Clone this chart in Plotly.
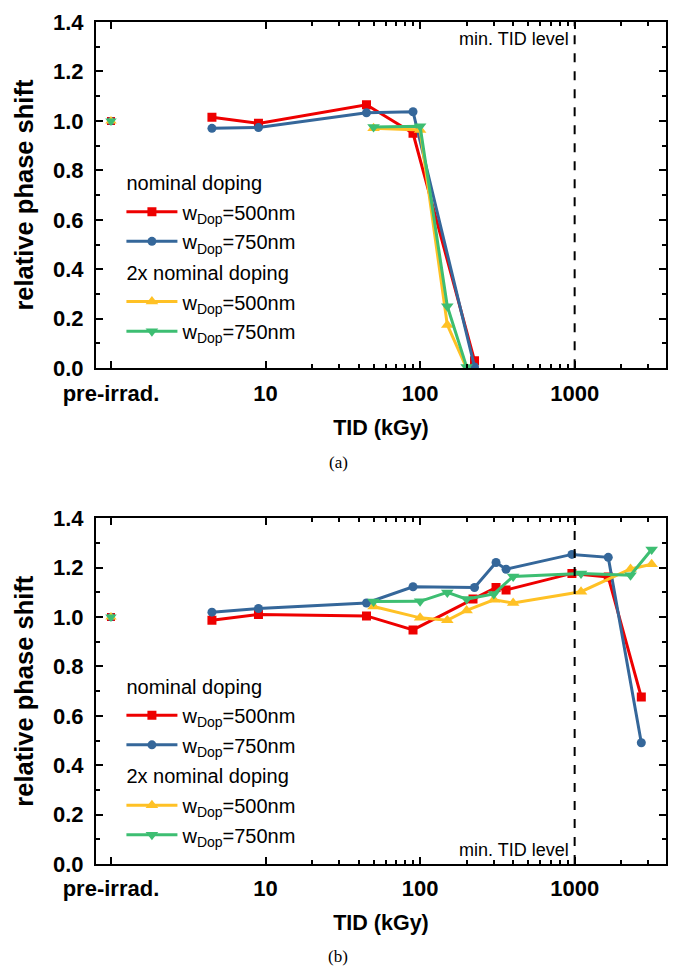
import numpy as np
import plotly.graph_objects as go

# ---------------- data ----------------
pre_x = 1  # "pre-irrad." position
pre_y = 1.0

a_nom500_x = [4.5, 9, 45, 90, 225]
a_nom500_y = [1.015, 0.99, 1.065, 0.95, 0.03]
a_nom750_x = [4.5, 9, 45, 90, 225]
a_nom750_y = [0.97, 0.973, 1.033, 1.037, 0.005]
a_2x500_x = [50, 100, 150, 200]
a_2x500_y = [0.97, 0.963, 0.175, 0.0]
a_2x750_x = [50, 100, 150, 200]
a_2x750_y = [0.975, 0.978, 0.25, 0.005]

b_nom500_x = [4.5, 9, 45, 90, 220, 310, 360, 960, 1650, 2700]
b_nom500_y = [0.987, 1.011, 1.005, 0.948, 1.073, 1.12, 1.11, 1.177, 1.162, 0.676]
b_nom750_x = [4.5, 9, 45, 90, 225, 310, 360, 960, 1650, 2700]
b_nom750_y = [1.02, 1.035, 1.057, 1.123, 1.12, 1.221, 1.194, 1.254, 1.242, 0.491]
b_2x500_x = [50, 100, 150, 200, 300, 400, 1100, 2300, 3150]
b_2x500_y = [1.043, 0.997, 0.987, 1.027, 1.07, 1.057, 1.103, 1.195, 1.214]
b_2x750_x = [50, 100, 150, 200, 300, 400, 1100, 2300, 3150]
b_2x750_y = [1.063, 1.064, 1.1, 1.073, 1.094, 1.165, 1.177, 1.17, 1.274]

x_tickvals = [1, 10, 100, 1000]
x_ticktext = ["pre-irrad.", "10", "100", "1000"]
x_minor = [20, 30, 40, 50, 60, 70, 80, 90, 200, 300, 400, 500, 600, 700, 800, 900, 2000, 3000]
y_tickvals = [0.0, 0.2, 0.4, 0.6, 0.8, 1.0, 1.2, 1.4]
y_minor = [0.1, 0.3, 0.5, 0.7, 0.9, 1.1, 1.3]
min_tid = 1000

series_names = ["w<sub>Dop</sub>=500nm", "w<sub>Dop</sub>=750nm",
                "w<sub>Dop</sub>=500nm", "w<sub>Dop</sub>=750nm"]
group_titles = ["nominal doping", "nominal doping", "2x nominal doping", "2x nominal doping"]

# ---------------- style ----------------
colors = ["#EE0000", "#35679A", "#FFC125", "#3DBE72"]
symbols = ["square", "circle", "triangle-up", "triangle-down"]
msizes = [9, 9, 11, 11]
groups = ["nom", "nom", "2x", "2x"]
FONT = "Liberation Sans, Arial, sans-serif"
LEG_TXT = 20     # visible legend text size
LEG_ROW = 20.5   # legend font size controlling row spacing


def span(t, size=LEG_TXT):
    return f'<span style="font-size:{size}px">{t}</span>'


fig = go.Figure()

panels = [
    ([a_nom500_x, a_nom750_x, a_2x500_x, a_2x750_x],
     [a_nom500_y, a_nom750_y, a_2x500_y, a_2x750_y], "x", "y", "legend"),
    ([b_nom500_x, b_nom750_x, b_2x500_x, b_2x750_x],
     [b_nom500_y, b_nom750_y, b_2x500_y, b_2x750_y], "x2", "y2", "legend2"),
]

for xs, ys, xa, ya, leg in panels:
    for i in range(4):
        fig.add_trace(go.Scatter(
            x=xs[i], y=ys[i], mode="lines+markers", name=span(series_names[i]),
            xaxis=xa, yaxis=ya, legend=leg,
            legendgroup=groups[i] + leg,
            legendgrouptitle=dict(text=span(group_titles[i]),
                                  font=dict(family=FONT, size=LEG_ROW, color="black")),
            line=dict(color=colors[i], width=3),
            marker=dict(symbol=symbols[i], size=msizes[i], color=colors[i]),
        ))
    for i in range(4):
        fig.add_trace(go.Scatter(
            x=[pre_x], y=[pre_y], mode="markers", showlegend=False,
            xaxis=xa, yaxis=ya,
            marker=dict(symbol=symbols[i], size=msizes[i] - 1, color=colors[i]),
            hoverinfo="skip",
        ))

# dashed line and annotation
for xa, ya, pos in [("x", "y", "top"), ("x2", "y2", "bottom")]:
    fig.add_shape(type="line", xref=xa, yref=ya + " domain",
                  x0=min_tid, x1=min_tid, y0=0, y1=1,
                  line=dict(color="black", width=2, dash="dash"))
    fig.add_annotation(xref=xa, yref=ya + " domain", x=np.log10(min_tid),
                       y=0.952 if pos == "top" else 0.04,
                       text="min. TID level", showarrow=False,
                       xanchor="right", yanchor="middle", xshift=-4,
                       font=dict(family=FONT, size=18, color="black"))

axis_common = dict(showline=True, linecolor="black", linewidth=2, mirror="ticks",
                   ticks="inside", ticklen=7, tickwidth=2, tickcolor="black",
                   showgrid=False, zeroline=False)

xaxis_cfg = dict(axis_common, type="log", range=[np.log10(0.8), np.log10(3900)],
                 tickvals=x_tickvals, ticktext=x_ticktext,
                 tickfont=dict(family=FONT, size=22, color="black", weight="bold"),
                 ticklabelstandoff=4,
                 minor=dict(tickvals=x_minor, ticks="inside", ticklen=4, tickwidth=2,
                            tickcolor="black", showgrid=False),
                 title=dict(text="<b>TID (kGy)</b>", standoff=15,
                            font=dict(family=FONT, size=21.5, color="black")))
yaxis_cfg = dict(axis_common, range=[0, 1.4], tickvals=y_tickvals,
                 ticktext=[f"{v:.1f}" for v in y_tickvals],
                 tickfont=dict(family=FONT, size=22, color="black", weight="bold"),
                 ticklabelstandoff=6,
                 minor=dict(tickvals=y_minor, ticks="inside", ticklen=4, tickwidth=2,
                            tickcolor="black", showgrid=False),
                 title=dict(text="<b>relative phase shift</b>", standoff=12,
                            font=dict(family=FONT, size=25.5, color="black")))

legend_common = dict(font=dict(family=FONT, size=LEG_ROW, color="black"),
                     bgcolor="rgba(0,0,0,0)", borderwidth=0, tracegroupgap=1,
                     xanchor="left", yanchor="top", itemwidth=51)

fig.update_layout(
    width=678, height=971,
    margin=dict(l=96, r=10, t=15, b=107),
    paper_bgcolor="white", plot_bgcolor="white",
    xaxis=dict(xaxis_cfg, domain=[0, 1], anchor="y"),
    yaxis=dict(yaxis_cfg, domain=[0.5889, 1.0], anchor="x"),
    xaxis2=dict(xaxis_cfg, domain=[0, 1], anchor="y2"),
    yaxis2=dict(yaxis_cfg, domain=[0.0, 0.4105], anchor="x2"),
    legend=dict(legend_common, x=0.0446, y=0.8335),
    legend2=dict(legend_common, x=0.0446, y=0.2355),
    showlegend=True,
)

# captions
CAP_FONT = dict(family="Liberation Serif, Times New Roman, serif", size=17, color="black")
fig.add_annotation(xref="paper", yref="paper", x=0.425, y=(864 - 459) / 849,
                   text="(a)", showarrow=False, xanchor="center", yanchor="middle",
                   font=CAP_FONT)
fig.add_annotation(xref="paper", yref="paper", x=0.425, y=(864 - 957) / 849,
                   text="(b)", showarrow=False, xanchor="center", yanchor="middle",
                   font=CAP_FONT)

fig.write_html("out.html")
